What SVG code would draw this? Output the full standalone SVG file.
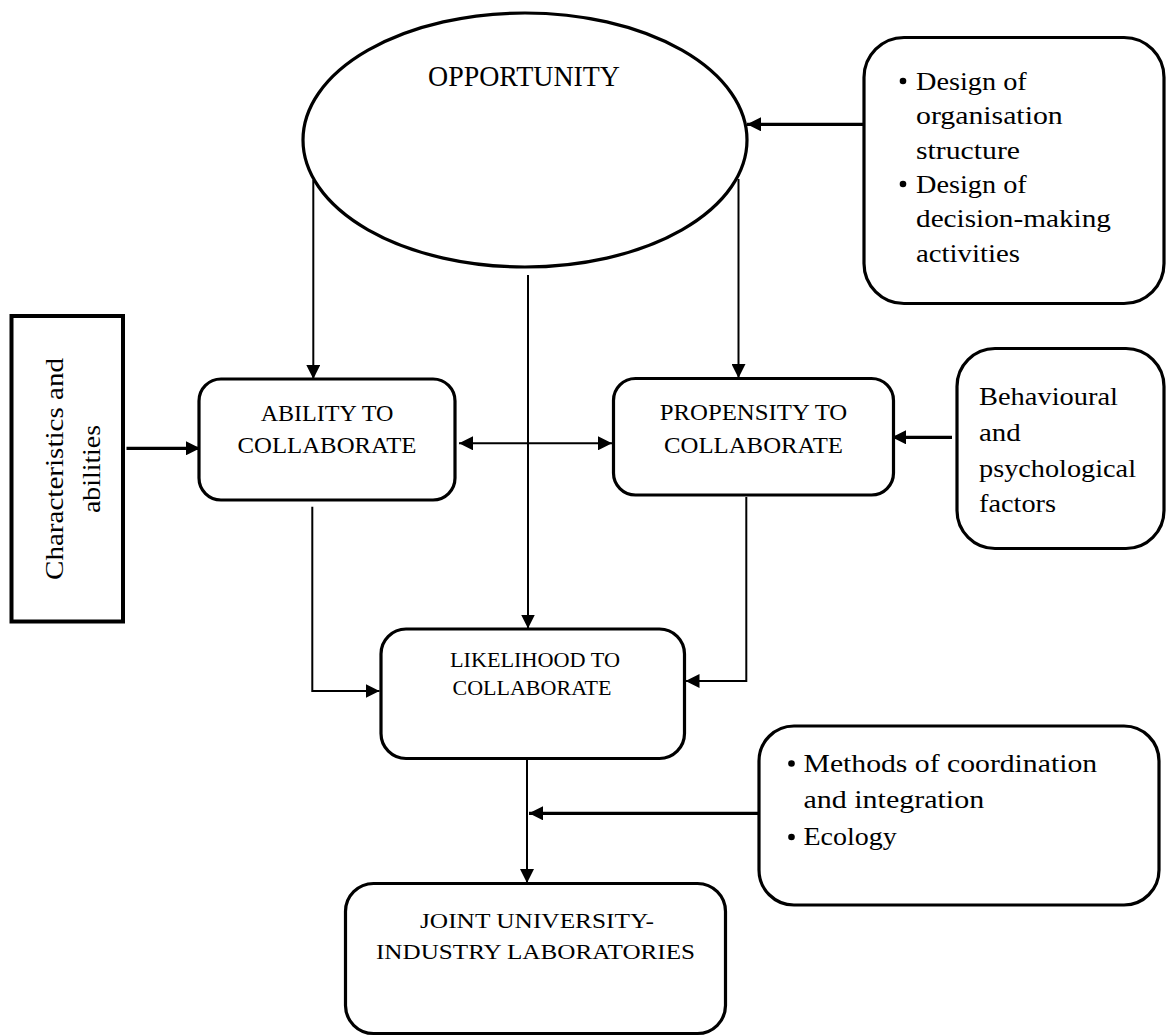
<svg xmlns="http://www.w3.org/2000/svg" width="1167" height="1036" viewBox="0 0 1167 1036">
<style>
.box{fill:#fff;stroke:#000;stroke-width:3.2}
.t{font-family:"Liberation Serif","Times New Roman",serif;fill:#000}
.c{text-anchor:middle}
.ln{fill:none;stroke:#000;stroke-width:2}
.thk{fill:none;stroke:#000;stroke-width:3.2}
</style>
<defs>
<marker id="ah" markerUnits="userSpaceOnUse" markerWidth="14" markerHeight="14" refX="14" refY="7" orient="auto">
<path d="M0,0 L14,7 L0,14 z" fill="#000"/>
</marker>
<marker id="ahs" markerUnits="userSpaceOnUse" markerWidth="14" markerHeight="14" refX="0" refY="7" orient="auto">
<path d="M14,0 L0,7 L14,14 z" fill="#000"/>
</marker>
</defs>
<rect width="1167" height="1036" fill="#fff"/>

<g id="opportunity">
<ellipse class="box" cx="525" cy="140" rx="222" ry="127"/>
<text class="t c" x="524" y="86" font-size="29" textLength="192" lengthAdjust="spacingAndGlyphs">OPPORTUNITY</text>
</g>

<g id="design">
<rect class="box" x="864" y="37.5" width="300" height="266" rx="40"/>
<circle cx="903" cy="81" r="3.3"/>
<text class="t" x="916" y="89.5" font-size="26" textLength="110.7" lengthAdjust="spacingAndGlyphs">Design of</text>
<text class="t" x="916" y="124" font-size="26" textLength="146.7" lengthAdjust="spacingAndGlyphs">organisation</text>
<text class="t" x="916" y="158.5" font-size="26" textLength="104" lengthAdjust="spacingAndGlyphs">structure</text>
<circle cx="903" cy="184" r="3.3"/>
<text class="t" x="916" y="192.5" font-size="26" textLength="110.7" lengthAdjust="spacingAndGlyphs">Design of</text>
<text class="t" x="916" y="227" font-size="26" textLength="195" lengthAdjust="spacingAndGlyphs">decision-making</text>
<text class="t" x="916" y="261.5" font-size="26" textLength="104" lengthAdjust="spacingAndGlyphs">activities</text>
</g>

<g id="characteristics">
<rect x="11.5" y="316" width="111.5" height="305.5" fill="#fff" stroke="#000" stroke-width="4"/>
<text class="t c" transform="translate(63,469) rotate(-90)" font-size="26" textLength="222" lengthAdjust="spacingAndGlyphs">Characteristics and</text>
<text class="t c" transform="translate(99.5,469) rotate(-90)" font-size="26" textLength="88" lengthAdjust="spacingAndGlyphs">abilities</text>
</g>

<g id="ability">
<rect class="box" x="199" y="379" width="256" height="121" rx="22"/>
<text class="t c" x="327" y="420.5" font-size="23" textLength="132.7" lengthAdjust="spacingAndGlyphs">ABILITY TO</text>
<text class="t c" x="327" y="452.5" font-size="23" textLength="179" lengthAdjust="spacingAndGlyphs">COLLABORATE</text>
</g>

<g id="propensity">
<rect class="box" x="613.5" y="378.5" width="280" height="116.5" rx="22"/>
<text class="t c" x="753.5" y="419.5" font-size="23" textLength="187.5" lengthAdjust="spacingAndGlyphs">PROPENSITY TO</text>
<text class="t c" x="753.5" y="452.5" font-size="23" textLength="179" lengthAdjust="spacingAndGlyphs">COLLABORATE</text>
</g>

<g id="behavioural">
<rect class="box" x="957" y="348.5" width="207" height="200" rx="38"/>
<text class="t" x="979" y="405" font-size="25" textLength="139" lengthAdjust="spacingAndGlyphs">Behavioural</text>
<text class="t" x="979" y="441" font-size="25" textLength="41.7" lengthAdjust="spacingAndGlyphs">and</text>
<text class="t" x="979" y="476.7" font-size="25" textLength="157" lengthAdjust="spacingAndGlyphs">psychological</text>
<text class="t" x="979" y="512.3" font-size="25" textLength="77" lengthAdjust="spacingAndGlyphs">factors</text>
</g>

<g id="likelihood">
<rect class="box" x="381" y="629" width="303.5" height="129.5" rx="25"/>
<text class="t c" x="535" y="666.7" font-size="20" textLength="170" lengthAdjust="spacingAndGlyphs">LIKELIHOOD TO</text>
<text class="t c" x="532" y="695" font-size="20" textLength="159" lengthAdjust="spacingAndGlyphs">COLLABORATE</text>
</g>

<g id="methods">
<rect class="box" x="759" y="726" width="400" height="179" rx="35"/>
<circle cx="791.5" cy="763.5" r="3.3"/>
<text class="t" x="803.5" y="771.7" font-size="25" textLength="293.6" lengthAdjust="spacingAndGlyphs">Methods of coordination</text>
<text class="t" x="803.5" y="808.3" font-size="25" textLength="180.7" lengthAdjust="spacingAndGlyphs">and integration</text>
<circle cx="791.5" cy="837" r="3.3"/>
<text class="t" x="803.5" y="845" font-size="25" textLength="93.3" lengthAdjust="spacingAndGlyphs">Ecology</text>
</g>

<g id="joint">
<rect class="box" x="345.5" y="883.5" width="380" height="150" rx="28"/>
<text class="t c" x="537" y="928.3" font-size="20.5" textLength="234" lengthAdjust="spacingAndGlyphs">JOINT UNIVERSITY-</text>
<text class="t c" x="535.5" y="959.3" font-size="20.5" textLength="319" lengthAdjust="spacingAndGlyphs">INDUSTRY LABORATORIES</text>
</g>

<g id="connectors">
<line class="ln" x1="313.3" y1="180" x2="313.3" y2="379" marker-end="url(#ah)"/>
<line class="ln" x1="528" y1="275" x2="528" y2="628.5" marker-end="url(#ah)"/>
<line class="ln" x1="738.5" y1="179" x2="738.5" y2="378" marker-end="url(#ah)"/>
<line class="thk" x1="864" y1="124.3" x2="747" y2="124.3" marker-end="url(#ah)"/>
<line class="thk" x1="126.5" y1="448.3" x2="200" y2="448.3" marker-end="url(#ah)"/>
<line class="ln" x1="459" y1="443.3" x2="612" y2="443.3" marker-start="url(#ahs)" marker-end="url(#ah)"/>
<line class="thk" x1="952" y1="437.3" x2="892" y2="437.3" marker-end="url(#ah)"/>
<polyline class="ln" points="312.3,506.7 312.3,691 379.5,691" marker-end="url(#ah)"/>
<polyline class="ln" points="746.3,497 746.3,681 685.5,681" marker-end="url(#ah)"/>
<line class="ln" x1="527" y1="758.5" x2="527" y2="883" marker-end="url(#ah)"/>
<line class="thk" x1="759" y1="813.3" x2="529" y2="813.3" marker-end="url(#ah)"/>
</g>
</svg>
